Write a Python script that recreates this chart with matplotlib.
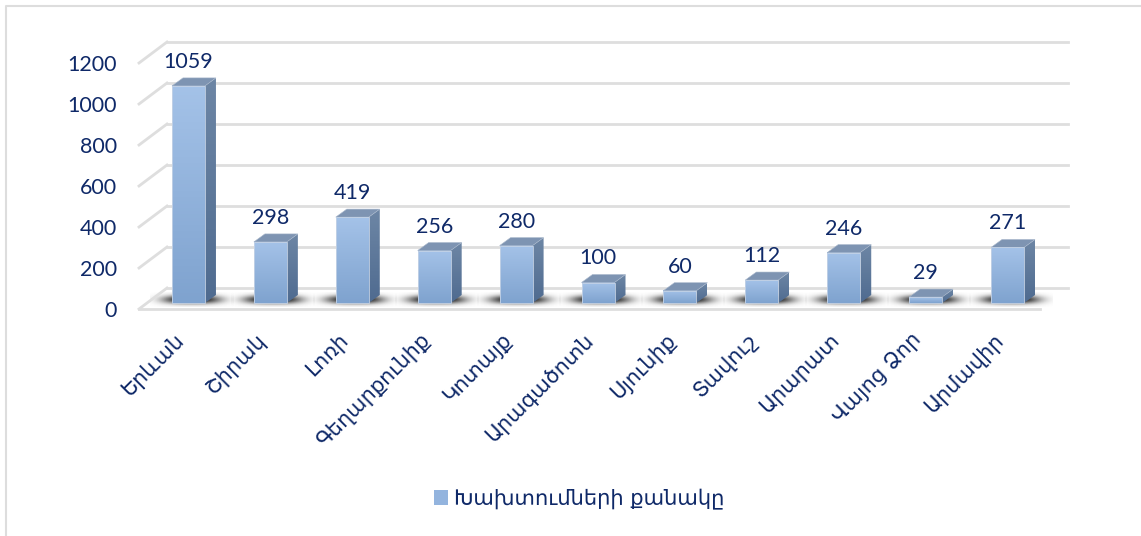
import matplotlib
matplotlib.use("Agg")
import matplotlib.pyplot as plt
import numpy as np
from matplotlib.colors import LinearSegmentedColormap
from matplotlib.patches import Patch, Polygon
from matplotlib.transforms import ScaledTranslation

regions = ['Երևան', 'Շիրակ', 'Լոռի', 'Գեղարքունիք', 'Կոտայք', 'Արագածոտն',
           'Սյունիք', 'Տավուշ', 'Արարատ', 'Վայոց Ձոր', 'Արմավիր']
violations = [1059, 298, 419, 256, 280, 100, 60, 112, 246, 29, 271]
y_ticks = [0, 200, 400, 600, 800, 1000, 1200]
legend_label = 'Խախտումների քանակը'

W, H = 1141, 536
TEXT = '#0f2968'
GRID = '#dedede'
NUM_FONT = ['Lato', 'DejaVu Sans']

front_cmap = LinearSegmentedColormap.from_list('front', ['#a4c2e8', '#7fa3cf'])
side_cmap = LinearSegmentedColormap.from_list('side', ['#6d86a5', '#4f6b90'])
shadow_color = (0.22, 0.22, 0.22)

fig = plt.figure(figsize=(W / 100, H / 100), dpi=100)

# background layer in pixel coordinates: frame and bar shadows
bg = fig.add_axes([0, 0, 1, 1])
bg.set_xlim(0, W)
bg.set_ylim(H, 0)
bg.axis('off')
bg.plot([6, 6, 1141], [536, 5.5, 5.5], color='#dddddd', lw=1.5)

# main axes, value 0 sits on the front edge of the floor
ax = fig.add_axes([139 / W, 1 - 309 / H, 901 / W, 246 / H])
ax.patch.set_alpha(0)
ax.set_xlim(-0.5, 10.5)
ax.set_ylim(0, 1200)
for s in ax.spines.values():
    s.set_visible(False)

per_cat = 901 / 11
per_unit = 246 / 1200


def shift(dx, dy):
    return ax.transData + ScaledTranslation(dx / 100, dy / 100, fig.dpi_scale_trans)


# walls
back = shift(28, 21)
for t in y_ticks:
    ax.plot([-0.5, -0.5 + 28 / per_cat], [t, t + 21 / per_unit], color=GRID, lw=2, clip_on=False)
    ax.plot([-0.5, 10.5], [t, t], color=GRID, lw=2, transform=back, clip_on=False)
ax.plot([-0.5, 10.5], [0, 0], color=GRID, lw=2, clip_on=False)

# floor shadow under the bars
gx = np.linspace(-1, 1, 120)
gy = np.linspace(-1, 1, 24)
shade = np.exp(-(np.abs(gx[None, :]) ** 3) * 3.0) * np.exp(-(gy[:, None] ** 2) * 3.0)
rgba = np.zeros(shade.shape + (4,))
rgba[..., :3] = shadow_color
rgba[..., 3] = np.clip(shade * 1.2, 0, 0.92)
for i in range(len(regions)):
    cx = 191.5 + per_cat * i
    bg.imshow(rgba, extent=[cx - 42, cx + 42, 307, 292], aspect='auto', zorder=2)
bg.set_xlim(0, W)
bg.set_ylim(H, 0)

# bars, front faces first through ax.bar then the 3d sides
width = 33 / per_cat
dx_side = 11 / per_cat
dy_side = 8 / per_unit
bar_trans = shift(8.5, 6)
bars = ax.bar(range(len(regions)), violations, width=width, color='none',
              edgecolor='#c5d3e6', linewidth=0.6, transform=bar_trans, zorder=4, clip_on=False)
grad = np.linspace(0, 1, 64)[:, None]
for i, (bar, v) in enumerate(zip(bars, violations)):
    left = i - width / 2
    right = i + width / 2
    im = ax.imshow(grad, cmap=front_cmap, extent=[left, right, 0, v], origin='upper', aspect='auto',
                   transform=bar_trans, zorder=3, clip_on=False)
    side = Polygon([(right, 0), (right + dx_side, dy_side), (right + dx_side, v + dy_side), (right, v)],
                   facecolor='none', edgecolor='none', transform=bar_trans)
    ax.add_patch(side)
    im2 = ax.imshow(grad, cmap=side_cmap, extent=[right, right + dx_side, 0, v + dy_side], origin='upper',
                    aspect='auto', transform=bar_trans, zorder=3)
    im2.set_clip_path(side)
    ax.add_patch(Polygon([(left, v), (right, v), (right + dx_side, v + dy_side), (left + dx_side, v + dy_side)],
                         facecolor='#7e94b2', edgecolor='#a9b8cc', linewidth=0.4, transform=bar_trans, zorder=3))
    ax.text(i, v + 24 / per_unit, str(v), ha='center', va='center', color=TEXT, fontsize=15.5,
            family=NUM_FONT, transform=bar_trans, zorder=5)
ax.set_xlim(-0.5, 10.5)
ax.set_ylim(0, 1200)

ax.set_yticks(y_ticks)
ax.set_yticklabels(y_ticks, color=TEXT, fontsize=15.5, family=NUM_FONT, va='center_baseline')
ax.tick_params(axis='y', length=0, pad=16)
ax.set_xticks(range(len(regions)))
ax.set_xticklabels(regions, rotation=45, ha='right', rotation_mode='anchor', color=TEXT,
                   fontsize=15, family='DejaVu Sans')
ax.tick_params(axis='x', length=0, pad=15)
nudge = ScaledTranslation(-6 / 100, 0, fig.dpi_scale_trans)
for lab in ax.get_xticklabels():
    lab.set_transform(lab.get_transform() + nudge)

fig.legend(handles=[Patch(facecolor='#93b4de', edgecolor='none', label=legend_label)],
           loc='center', bbox_to_anchor=(579.5 / W, 1 - 499 / H), frameon=False,
           prop={'family': 'DejaVu Sans', 'size': 15.1}, labelcolor=TEXT,
           handlelength=0.67, handleheight=0.67, handletextpad=0.3)

fig.savefig('out.png', dpi=100)
